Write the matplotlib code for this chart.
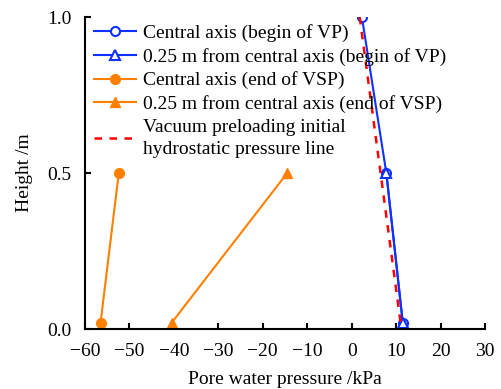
import matplotlib
matplotlib.use("Agg")
import matplotlib.pyplot as plt

plt.rcParams['font.family'] = ['Liberation Serif', 'DejaVu Serif']

# pore water pressure (kPa) against height (m)
h_center_vp = [1.0, 0.5, 0.02]
p_center_vp = [2.3, 7.8, 11.5]
h_side_vp = [0.5, 0.02]
p_side_vp = [7.8, 11.5]
h_center_vsp = [0.5, 0.02]
p_center_vsp = [-52.4, -56.5]
h_side_vsp = [0.5, 0.02]
p_side_vsp = [-14.5, -40.5]
h_hydro = [1.0, 0.0]
p_hydro = [1.8, 11.2]

fig = plt.figure(figsize=(5.01, 3.89), dpi=100)
ax = fig.add_axes([85/501, 1-329/389, 400/501, 312/389])

blue = '#1030ff'
orange = '#ff8000'
ax.plot(p_center_vp, h_center_vp, '-o', color=blue, lw=1.5, ms=6.5, mfc='white', mew=1.5,
        label='Central axis (begin of VP)')
ax.plot(p_side_vp, h_side_vp, '-^', color=blue, lw=1.5, ms=6.5, mfc='white', mew=1.5,
        label='0.25 m from central axis (begin of VP)')
ax.plot(p_center_vsp, h_center_vsp, '-o', color=orange, lw=1.5, ms=7,
        label='Central axis (end of VSP)')
ax.plot(p_side_vsp, h_side_vsp, '-^', color=orange, lw=1.5, ms=7,
        label='0.25 m from central axis (end of VSP)')
ax.plot(p_hydro, h_hydro, '--', color='#ff0000', lw=1.8, dashes=(3, 3),
        label='Vacuum preloading initial\nhydrostatic pressure line')

ax.set_xlim(-60, 30)
ax.set_ylim(0, 1.0)
ax.set_xticks(range(-60, 31, 10))
ax.set_yticks([0.0, 0.5, 1.0])
ax.set_yticklabels(['0.0', '0.5', '1.0'])
ax.set_xticklabels(['\u221260', '\u221250', '\u221240', '\u221230', '\u221220', '\u221210',
                    '0', '10', '20', '30'])
for s in ['top', 'right']:
    ax.spines[s].set_visible(False)
for s in ['left', 'bottom']:
    ax.spines[s].set_linewidth(1.5)
ax.tick_params(direction='in', length=4, width=1.5, labelsize=14)
ax.tick_params(axis='x', pad=10)
ax.tick_params(axis='y', pad=10)
ax.set_xlabel('Pore water pressure /kPa', fontsize=14, labelpad=8)
ax.set_ylabel('Height /m', fontsize=14, labelpad=10)

leg = ax.legend(loc='upper left', bbox_to_anchor=(0.0125, 0.99), frameon=False, fontsize=14,
                handlelength=2.15, handletextpad=0.36, labelspacing=0.3, borderaxespad=0.0,
                borderpad=0.2)
for t in leg.get_texts():
    t.set_linespacing(1.35)

fig.savefig('out.png', dpi=100)
